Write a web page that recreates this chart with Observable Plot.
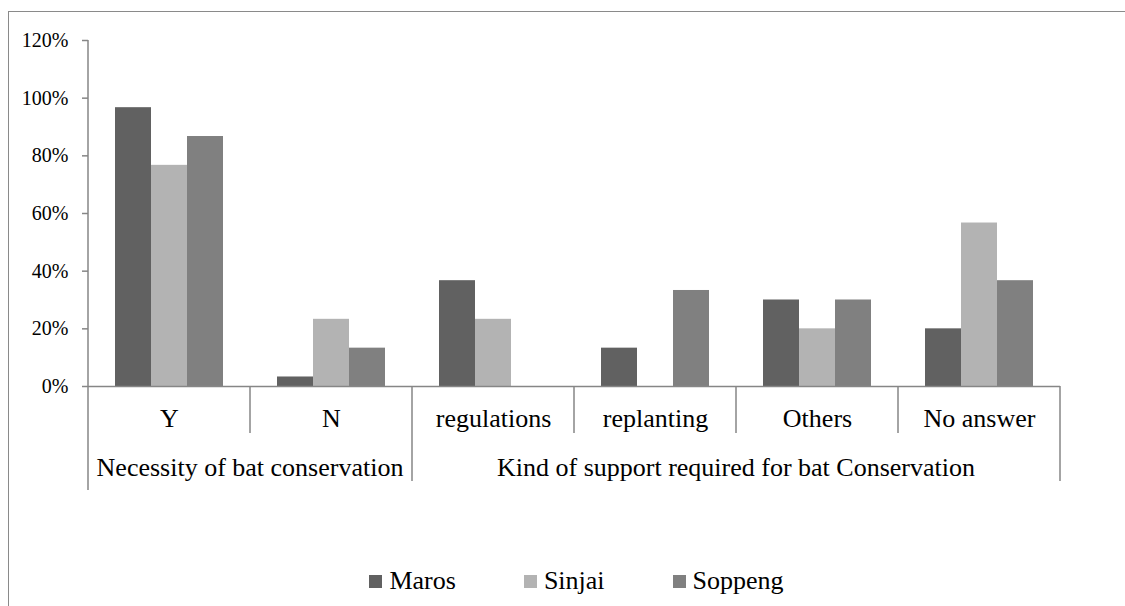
<!DOCTYPE html>
<html>
<head>
<meta charset="utf-8">
<script src="https://cdn.jsdelivr.net/npm/d3@7"></script>
<script src="https://cdn.jsdelivr.net/npm/@observablehq/plot@0.6"></script>
<style>
  html, body { margin: 0; padding: 0; background: #fff; overflow: hidden; }
  body { width: 1125px; height: 606px; position: relative; font-family: 'Liberation Serif', serif; }
  svg, svg text { font-family: 'Liberation Serif', serif !important; }
  #frame { position: absolute; left: 8px; top: 11px; width: 2000px; height: 2000px;
           border-left: 1px solid #8a8a8a; border-top: 1.5px solid #8a8a8a; }
  #chart { position: absolute; left: 0; top: 0; }
  #legend { position: absolute; left: 0; top: 568px; width: 1125px; box-sizing: border-box; padding-left: 28px;
            display: flex; justify-content: center; align-items: center;
            font-family: 'Liberation Serif', serif; font-size: 26px; line-height: 26px; color: #000; }
  #legend .item { display: flex; align-items: center; }
  #legend .sw { width: 13px; height: 13px; margin-right: 7px; }
  #legend .gap { width: 68px; }
</style>
</head>
<body>
<div id="frame"></div>
<div id="chart"></div>
<div id="legend"></div>
<script>
// Survey answers (share of respondents) per district
const categories = ["Y", "N", "regulations", "replanting", "Others", "No answer"];
const categoryGroup = [
  "Necessity of bat conservation",
  "Necessity of bat conservation",
  "Kind of support required for bat Conservation",
  "Kind of support required for bat Conservation",
  "Kind of support required for bat Conservation",
  "Kind of support required for bat Conservation"
];
const districts = ["Maros", "Sinjai", "Soppeng"];
const maros   = [0.967, 0.033, 0.367, 0.133, 0.30, 0.20];
const sinjai  = [0.767, 0.233, 0.233, 0.0,   0.20, 0.567];
const soppeng = [0.867, 0.133, 0.0,   0.333, 0.30, 0.367];
const districtColors = ["#616161", "#b3b3b3", "#808080"];
const yTicks = [0, 0.2, 0.4, 0.6, 0.8, 1.0, 1.2];

const seriesValues = [maros, sinjai, soppeng];
const rows = [];
categories.forEach((c, i) => {
  districts.forEach((d, j) => rows.push({category: c, district: d, value: seriesValues[j][i]}));
});

const axisGray = "#868686";
const fontFamily = "'Liberation Serif', serif";

const plot = Plot.plot({
  width: 1125,
  height: 560,
  marginLeft: 86,
  marginRight: 64,
  marginTop: 40,
  marginBottom: 174,
  style: {fontFamily, color: "#000", background: "transparent", overflow: "visible"},
  fx: {domain: categories, padding: 0, axis: null},
  x: {domain: districts, paddingInner: 0, paddingOuter: 0.75, axis: null},
  y: {domain: [0, 1.2], axis: null},
  color: {domain: districts, range: districtColors},
  marks: [
    Plot.axisY({ticks: yTicks, tickFormat: d3.format(".0%"), tickSize: 6, tickPadding: 14,
                fontSize: 20, stroke: axisGray, strokeWidth: 1.5, label: null}),
    Plot.barY(rows, {fx: "category", x: "district", y: "value", fill: "district", inset: 0}),
    Plot.ruleY([0], {stroke: axisGray, strokeWidth: 1.5}),
    Plot.axisFx({anchor: "bottom", tickSize: 0, tickPadding: 22, fontSize: 26, label: null})
  ]
});
plot.setAttribute("font-family", fontFamily);
document.getElementById("chart").appendChild(plot);

// Multi-level category axis: separators and group labels
const fx = plot.scale("fx");
const y = plot.scale("y");
const base = y.apply(0);
const svg = d3.select(plot);
const g = svg.append("g").attr("stroke", axisGray).attr("stroke-width", 1.5);

// vertical axis line, continued down through the category rows
g.append("line")
  .attr("x1", fx.apply(categories[0])).attr("x2", fx.apply(categories[0]))
  .attr("y1", y.apply(1.2)).attr("y2", base + 104);

for (let i = 1; i <= categories.length; i++) {
  const x = i < categories.length ? fx.apply(categories[i]) : fx.apply(categories[i - 1]) + fx.bandwidth;
  const groupEdge = i === categories.length || categoryGroup[i] !== categoryGroup[i - 1];
  g.append("line").attr("x1", x).attr("x2", x)
    .attr("y1", base).attr("y2", base + (groupEdge ? 95 : 47));
}

const groups = Array.from(new Set(categoryGroup));
groups.forEach(name => {
  const members = categories.filter((c, i) => categoryGroup[i] === name);
  const x0 = fx.apply(members[0]);
  const x1 = fx.apply(members[members.length - 1]) + fx.bandwidth;
  svg.append("text")
    .attr("x", (x0 + x1) / 2).attr("y", base + 90)
    .attr("text-anchor", "middle")
    .attr("font-size", 26).attr("font-family", fontFamily).attr("fill", "#000")
    .text(name);
});

// Legend
const legend = d3.select("#legend");
districts.forEach((d, i) => {
  if (i > 0) legend.append("div").attr("class", "gap");
  const item = legend.append("div").attr("class", "item");
  item.append("div").attr("class", "sw").style("background", districtColors[i]);
  item.append("span").text(d);
});
</script>
</body>
</html>
